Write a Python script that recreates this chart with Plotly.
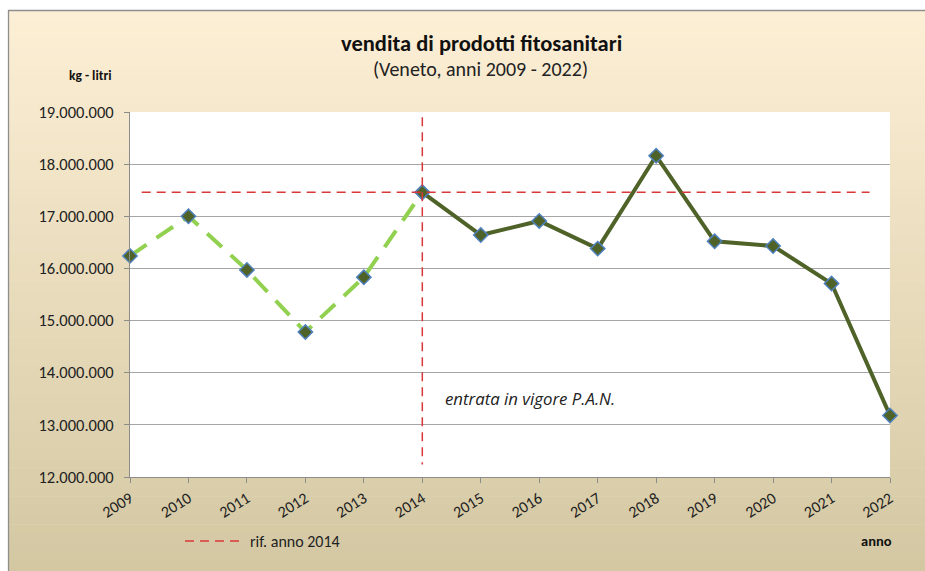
import plotly.graph_objects as go

years_pre = [2009, 2010, 2011, 2012, 2013, 2014]
values_pre = [16240000, 17000000, 15970000, 14780000, 15830000, 17460000]
years_post = [2014, 2015, 2016, 2017, 2018, 2019, 2020, 2021, 2022]
values_post = [17460000, 16640000, 16910000, 16380000, 18160000, 16520000, 16430000, 15710000, 13180000]
ref_x = [2009.2, 2021.65]
ref_y = [17460000, 17460000]
pan_x = [2014, 2014]
pan_y = [18900000, 12240000]
x_ticks = list(range(2009, 2023))

OFF = 0  # body margin removed by post_script
SW, SH = 925, 571
W, H = SW - 2 * OFF, SH - 2 * OFF
# plot area in screen pixels
PX0, PX1, PY0, PY1 = 130, 890, 112, 477
L, T = PX0 - OFF, PY0 - OFF
R, B = W - (PX1 - OFF), H - (PY1 - OFF)
pw, ph = PX1 - PX0, PY1 - PY0


def px_x(p):
    return (p - PX0) / pw


def px_y(p):
    return (PY1 - p) / ph


fig = go.Figure()

fig.add_trace(go.Scatter(
    x=years_pre, y=values_pre, mode="lines+markers",
    line=dict(color="#92D050", width=4, dash="20px,12px"),
    marker=dict(symbol="diamond", size=11, color="#4F6228", line=dict(color="#4F81BD", width=1.5)),
    showlegend=False, cliponaxis=False,
))
fig.add_trace(go.Scatter(
    x=years_post, y=values_post, mode="lines+markers",
    line=dict(color="#4F6228", width=4),
    marker=dict(symbol="diamond", size=11, color="#4F6228", line=dict(color="#4F81BD", width=1.5)),
    showlegend=False, cliponaxis=False,
))
fig.add_trace(go.Scatter(
    x=ref_x, y=ref_y, mode="lines", name="rif. anno 2014",
    line=dict(color="#D9383A", width=1.5, dash="9px,6px"),
    showlegend=True,
))
fig.add_trace(go.Scatter(
    x=pan_x, y=pan_y, mode="lines",
    line=dict(color="#D9383A", width=1.5, dash="9px,6px"),
    showlegend=False,
))

# gradient background frame
shapes = []
top_c = (253, 239, 213)
bot_c = (212, 200, 163)
y0p, y1p = 10, SH
n = 60
step = (y1p - y0p) / n
for i in range(n):
    t = i / (n - 1)
    c = tuple(round(top_c[k] + (bot_c[k] - top_c[k]) * t) for k in range(3))
    a = y0p + i * step
    b = a + step + 0.6
    shapes.append(dict(type="rect", xref="paper", yref="paper", layer="below",
                       x0=px_x(8), x1=px_x(SW + 5), y0=px_y(min(b, SH + 5)), y1=px_y(a),
                       line=dict(width=0), fillcolor="rgb(%d,%d,%d)" % c))
shapes.append(dict(type="rect", xref="paper", yref="paper", layer="below",
                   x0=0, x1=1, y0=0, y1=1, line=dict(width=0), fillcolor="white"))
shapes.append(dict(type="rect", xref="paper", yref="paper", layer="below",
                   x0=px_x(8.5), x1=px_x(SW + 5), y0=px_y(SH + 5), y1=px_y(10.5),
                   line=dict(color="#8E8E8E", width=1.3), fillcolor="rgba(0,0,0,0)"))

font_fam = "Carlito, Calibri, 'Liberation Sans', Arial, sans-serif"


def ann(text, x, y, size, color="#111111", xref="paper", yref="paper", xanchor="center", fam=None):
    d = dict(text=text, xref=xref, yref=yref, x=x, y=y, xanchor=xanchor, yanchor="middle",
             showarrow=False, font=dict(size=size, color=color))
    if fam:
        d["font"]["family"] = fam
    return d


fig.update_layout(
    width=W, height=H,
    margin=dict(l=L, r=R, t=T, b=B, autoexpand=False),
    paper_bgcolor="white", plot_bgcolor="white",
    separators=",.",
    font=dict(family=font_fam, size=15, color="#222222"),
    shapes=shapes,
    showlegend=True,
    legend=dict(x=px_x(180), y=px_y(541), xanchor="left", yanchor="middle",
                bgcolor="rgba(0,0,0,0)", itemwidth=60,
                font=dict(size=16, family=font_fam, color="#222222")),
    annotations=[
        ann("<b>vendita di prodotti fitosanitari</b>", px_x(481), px_y(43), 22.5),
        ann("(Veneto, anni 2009 - 2022)", px_x(480), px_y(69), 20, "#222222"),
        ann("<b>kg - litri</b>", px_x(90), px_y(75), 13.5),
        ann("<b>anno</b>", px_x(876), px_y(541), 14.5),
        ann("<i>entrata in vigore P.A.N.</i>", 2014.36, 13510000, 16.8, "#222222",
            xref="x", yref="y", xanchor="left", fam="'Open Sans', sans-serif"),
    ],
)

fig.update_xaxes(
    range=[2009, 2022], tickvals=x_ticks, ticktext=[str(v) for v in x_ticks],
    tickangle=-32, showgrid=False, showline=True, linecolor="#8C8C8C", linewidth=1,
    ticks="outside", ticklen=5, tickcolor="#8C8C8C", zeroline=False,
    tickfont=dict(size=16, color="#222222"),
)
fig.update_yaxes(
    range=[12000000, 19000000], dtick=1000000, tickformat=",d",
    showgrid=True, gridcolor="#A6A6A6", gridwidth=1,
    showline=True, linecolor="#8C8C8C", linewidth=1,
    ticks="outside", ticklen=5, tickcolor="#8C8C8C", zeroline=False,
    ticklabelstandoff=7,
    tickfont=dict(size=16.5, color="#222222"),
)

fig.write_html(
    "out.html",
    config={"displayModeBar": False},
    post_script="document.body.style.margin='0';document.body.style.overflow='hidden';",
)
